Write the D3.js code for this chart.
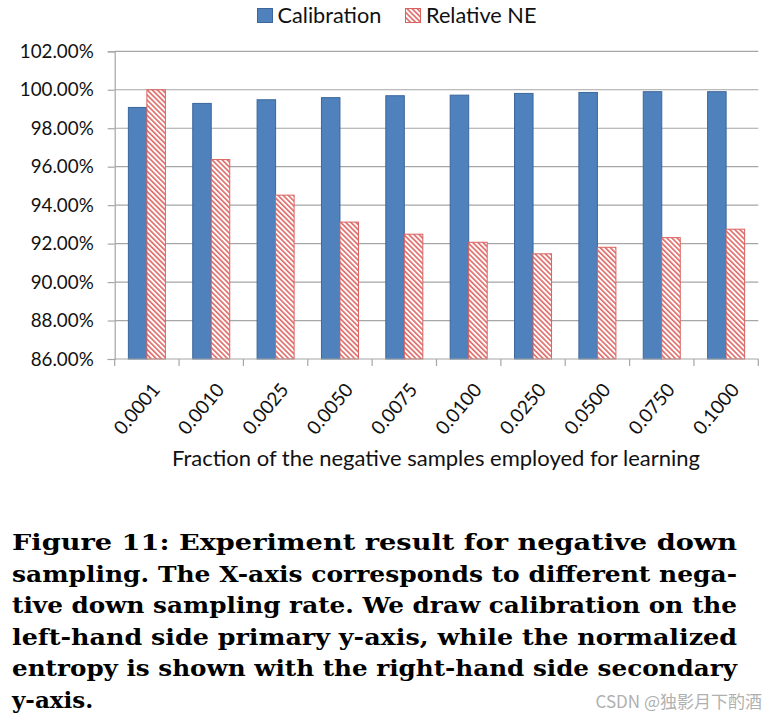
<!DOCTYPE html>
<html><head><meta charset="utf-8">
<script src="https://cdn.jsdelivr.net/npm/d3@7"></script>
<style>
body{margin:0;background:#fff;}
svg{display:block;}
</style></head>
<body>
<svg id="chart" width="776" height="719"></svg>
<script>
const categories = ["0.0001","0.0010","0.0025","0.0050","0.0075","0.0100","0.0250","0.0500","0.0750","0.1000"];
const calibration = [99.08, 99.29, 99.48, 99.59, 99.69, 99.72, 99.81, 99.86, 99.90, 99.90];
const relativeNE = [100.00, 96.37, 94.52, 93.12, 92.49, 92.07, 91.47, 91.81, 92.31, 92.75];
const yTicks = [86, 88, 90, 92, 94, 96, 98, 100, 102];
const seriesNames = ["Calibration", "Relative NE"];
const xTitle = "Fraction of the negative samples employed for learning";
const captionLines = [
  "Figure 11:  Experiment result for negative down",
  "sampling. The X-axis corresponds to different nega-",
  "tive down sampling rate. We draw calibration on the",
  "left-hand side primary y-axis, while the normalized",
  "entropy is shown with the right-hand side secondary",
  "y-axis."
];
const watermark = "CSDN @独影月下酌酒";

const svg = d3.select("#chart");
const mLeft = 114.7, mRight = 758.3, mTop = 51.3, mBottom = 359;
const font = "Lato, 'Open Sans', sans-serif";
const gridColor = "#a6a6a6";

const defs = svg.append("defs");
const pat = defs.append("pattern").attr("id","hatch").attr("patternUnits","userSpaceOnUse")
  .attr("width",3.6).attr("height",3.6).attr("patternTransform","rotate(-45)");
pat.append("rect").attr("width",3.6).attr("height",3.6).attr("fill","#fff");
pat.append("rect").attr("x",0).attr("y",0).attr("width",1.7).attr("height",3.6).attr("fill","#e0706e");

const x = d3.scaleBand().domain(categories).range([mLeft, mRight]).paddingInner(0.425).paddingOuter(0.2125);
const xCat = d3.scaleBand().domain(categories).range([mLeft, mRight]);
const y = d3.scaleLinear().domain([86, 102]).range([mBottom, mTop]);

// gridlines
svg.append("g").selectAll("line").data(yTicks.filter(t => t !== 86)).join("line")
  .attr("x1", mLeft).attr("x2", mRight).attr("y1", d => y(d)).attr("y2", d => y(d))
  .attr("stroke", gridColor).attr("stroke-width", 1.2);

// y axis
const yAxis = d3.axisLeft(y).tickValues(yTicks).tickSize(7).tickPadding(14)
  .tickFormat(d => d.toFixed(2) + "%");
const gy = svg.append("g").attr("transform", `translate(${mLeft},0)`).call(yAxis);
gy.select(".domain").attr("stroke", gridColor).attr("stroke-width", 1.2);
gy.selectAll(".tick line").attr("stroke", gridColor).attr("stroke-width", 1.2);
gy.selectAll("text").attr("font-family", font).attr("font-size", 18.8).attr("fill", "#111");

// bars
const bw = x.bandwidth() / 2;
const groups = svg.append("g").selectAll("g").data(categories).join("g");
groups.append("rect")
  .attr("x", (d) => x(d)).attr("width", bw)
  .attr("y", (d,i) => y(calibration[i])).attr("height", (d,i) => mBottom - y(calibration[i]))
  .attr("fill", "#4f81bd").attr("stroke", "#3b679b").attr("stroke-width", 1);
groups.append("rect")
  .attr("x", (d) => x(d) + bw).attr("width", bw)
  .attr("y", (d,i) => y(relativeNE[i])).attr("height", (d,i) => mBottom - y(relativeNE[i]))
  .attr("fill", "url(#hatch)").attr("stroke", "#d9625f").attr("stroke-width", 1);

// x axis
const gx = svg.append("g").attr("transform", `translate(0,${mBottom})`);
gx.append("line").attr("x1", mLeft).attr("x2", mRight).attr("y1", 0).attr("y2", 0)
  .attr("stroke", gridColor).attr("stroke-width", 1.2);
const bounds = categories.map(c => xCat(c)).concat([mRight]);
gx.selectAll("line.tk").data(bounds).join("line").attr("class","tk")
  .attr("x1", d => d).attr("x2", d => d).attr("y1", 0).attr("y2", 7)
  .attr("stroke", gridColor).attr("stroke-width", 1.2);
gx.selectAll("text").data(categories).join("text")
  .attr("transform", d => `translate(${xCat(d) + xCat.bandwidth()/2 + 9},${27}) rotate(-50)`)
  .attr("text-anchor", "end").attr("dy", "0.35em")
  .attr("font-family", font).attr("font-size", 19).attr("fill", "#111")
  .text(d => d);

// x title
svg.append("text").attr("x", 436).attr("y", 466)
  .attr("text-anchor", "middle").attr("font-family", font).attr("font-size", 22).attr("fill", "#111")
  .text(xTitle);

// legend
const lg = svg.append("g");
lg.append("rect").attr("x", 257.5).attr("y", 8.5).attr("width", 15).attr("height", 14)
  .attr("fill", "#4f81bd").attr("stroke", "#3b679b");
lg.append("text").attr("x", 277.5).attr("y", 23).attr("font-family", font).attr("font-size", 21.7)
  .attr("fill", "#111").text(seriesNames[0]);
lg.append("rect").attr("x", 405.5).attr("y", 8.5).attr("width", 15).attr("height", 14)
  .attr("fill", "url(#hatch)").attr("stroke", "#d9625f");
lg.append("text").attr("x", 426).attr("y", 23).attr("font-family", font).attr("font-size", 21.7)
  .attr("fill", "#111").text(seriesNames[1]);

// caption
const cap = svg.append("g");
captionLines.forEach((line, i) => {
  const t = cap.append("text").attr("x", 12).attr("y", 550 + i * 31.6)
    .attr("font-family", "'DejaVu Serif', 'Liberation Serif', serif").attr("font-weight", "bold")
    .attr("font-size", 23).attr("fill", "#000").text(line);
  if (i < captionLines.length - 1) t.attr("textLength", 725).attr("lengthAdjust", "spacingAndGlyphs");
});

svg.append("text").attr("x", 762).attr("y", 708).attr("text-anchor", "end")
  .attr("font-family", "'Noto Sans CJK SC', sans-serif").attr("font-size", 17).attr("fill", "#b0b0b0")
  .text(watermark);
</script>
</body></html>
